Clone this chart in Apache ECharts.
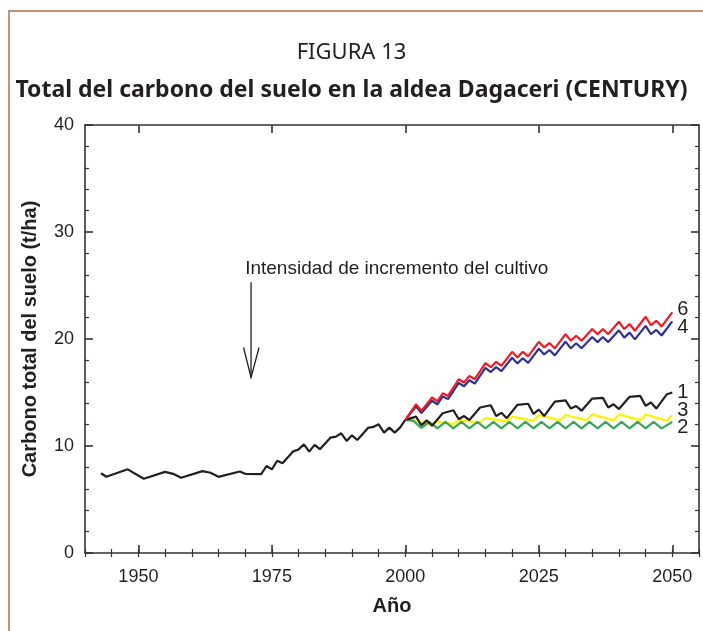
<!DOCTYPE html>
<html>
<head>
<meta charset="utf-8">
<script src="https://cdn.jsdelivr.net/npm/echarts@6.0.0/dist/echarts.min.js"></script>
<style>
    html, body { margin: 0; padding: 0; background: #fff; }
    #chart { width: 703px; height: 631px; }
</style>
</head>
<body>
<div id="chart"></div>
<script>
// Año / carbono (t/ha)
const histYears = [1943, 1944, 1948, 1951, 1955, 1956.5, 1958, 1962, 1963.5, 1965, 1969, 1970, 1973, 1974, 1975, 1976, 1977, 1979, 1980, 1981, 1982, 1983, 1984, 1986, 1987, 1988, 1989, 1990, 1991, 1993, 1994, 1995, 1996, 1997, 1998, 1999, 2000]
const histValues = [7.45, 7.13, 7.82, 6.94, 7.58, 7.4, 7.03, 7.65, 7.5, 7.12, 7.62, 7.4, 7.38, 8.13, 7.82, 8.62, 8.38, 9.5, 9.68, 10.15, 9.47, 10.1, 9.7, 10.79, 10.88, 11.19, 10.47, 11.0, 10.56, 11.69, 11.78, 12.03, 11.25, 11.72, 11.25, 11.72, 12.44]

// escenarios 6 y 4 (mismos años)
const years64 = [2000, 2002, 2003, 2005, 2006, 2007, 2008, 2010, 2011, 2012, 2013, 2015, 2016, 2017, 2018, 2020, 2021, 2022, 2023, 2025, 2026, 2027, 2028, 2030, 2031, 2032, 2033, 2035, 2036, 2037, 2038, 2040, 2041, 2042, 2043, 2045, 2046, 2047, 2048, 2050]
const values6 = [12.44, 13.9, 13.28, 14.53, 14.2, 14.93, 14.68, 16.24, 15.93, 16.55, 16.24, 17.74, 17.36, 17.87, 17.5, 18.8, 18.27, 18.8, 18.37, 19.74, 19.21, 19.62, 19.12, 20.46, 19.83, 20.3, 19.83, 20.93, 20.46, 20.93, 20.46, 21.61, 20.93, 21.4, 20.77, 22.08, 21.3, 21.7, 21.18, 22.49]
const values4 = [12.44, 13.7, 13.08, 14.23, 13.9, 14.63, 14.38, 15.89, 15.58, 16.15, 15.84, 17.29, 16.91, 17.37, 17.0, 18.25, 17.72, 18.2, 17.77, 19.09, 18.56, 18.97, 18.47, 19.76, 19.13, 19.6, 19.13, 20.18, 19.71, 20.18, 19.71, 20.81, 20.13, 20.6, 19.97, 21.23, 20.45, 20.85, 20.33, 21.64]

// escenario 1
const years1 = [2000, 2002, 2003, 2004, 2005, 2007, 2009, 2010, 2011, 2012, 2014, 2016, 2017, 2018, 2019, 2021, 2023, 2024, 2025, 2026, 2028, 2030, 2031, 2032, 2033, 2035, 2037, 2038, 2039, 2040, 2042, 2044, 2045, 2046, 2047, 2049, 2050]
const values1 = [12.44, 12.75, 11.94, 12.4, 11.9, 13.06, 13.34, 12.5, 12.8, 12.43, 13.6, 13.81, 12.8, 13.1, 12.6, 13.85, 13.95, 13.0, 13.4, 12.8, 14.15, 14.27, 13.5, 13.73, 13.3, 14.43, 14.5, 13.6, 13.9, 13.45, 14.6, 14.68, 13.75, 14.06, 13.5, 14.84, 15.0]

// escenario 3
const years3 = [2000, 2001, 2002, 2005, 2006, 2009, 2010, 2014, 2015, 2019, 2020, 2024, 2025, 2029, 2030, 2034, 2035, 2039, 2040, 2044, 2045, 2049, 2050]
const values3 = [12.44, 12.5, 12.4, 11.95, 12.3, 12.05, 12.4, 12.2, 12.6, 12.3, 12.75, 12.35, 12.9, 12.4, 12.9, 12.4, 12.95, 12.4, 12.95, 12.4, 12.95, 12.35, 12.9]

// escenario 2
const years2 = [2000, 2001.5, 2003, 2004.5, 2006, 2007.5, 2009, 2010.5, 2012, 2013.5, 2015, 2016.5, 2018, 2019.5, 2021, 2022.5, 2024, 2025.5, 2027, 2028.5, 2030, 2031.5, 2033, 2034.5, 2036, 2037.5, 2039, 2040.5, 2042, 2043.5, 2045, 2046.5, 2048, 2050]
const values2 = [12.44, 12.35, 11.7, 12.25, 11.65, 12.25, 11.65, 12.25, 11.65, 12.25, 11.65, 12.25, 11.65, 12.25, 11.65, 12.25, 11.65, 12.25, 11.65, 12.25, 11.65, 12.25, 11.65, 12.25, 11.65, 12.25, 11.65, 12.25, 11.65, 12.25, 11.65, 12.25, 11.65, 12.25]

const majorYears = [1950, 1975, 2000, 2025, 2050]

const ink = '#231f20'
const axisColor = '#333'

function pairs(xs, ys) {
    return xs.map((x, i) => [x, ys[i]])
}

function xAxisFor(position, labels) {
    return [{
        type: 'value',
        position: position,
        min: 1940,
        max: 2055,
        name: labels ? 'Año' : '',
        nameLocation: 'middle',
        nameGap: 43,
        nameTextStyle: { fontFamily: 'Liberation Sans', fontWeight: 'bold', fontSize: 20, color: ink },
        axisLine: { show: true, onZero: false, lineStyle: { color: axisColor, width: 1.6 } },
        axisTick: { show: true, inside: true, length: 8, customValues: majorYears, lineStyle: { color: axisColor, width: 1.6 } },
        axisLabel: {
            show: labels,
            customValues: majorYears,
            formatter: (v) => String(v),
            margin: 15,
            fontFamily: 'Liberation Sans',
            fontSize: 18,
            color: ink
        },
        splitLine: { show: false }
    }, {
        // ticks menores cada 5 años
        type: 'value',
        position: position,
        min: 1940,
        max: 2055,
        interval: 5,
        axisLine: { show: false },
        axisTick: { show: true, inside: true, length: 4, lineStyle: { color: axisColor, width: 1.2 } },
        axisLabel: { show: false },
        splitLine: { show: false }
    }]
}

function yAxisFor(position, labels) {
    return {
        type: 'value',
        position: position,
        min: 0,
        max: 40,
        interval: 10,
        name: labels ? 'Carbono total del suelo (t/ha)' : '',
        nameLocation: 'middle',
        nameRotate: 90,
        nameGap: 45,
        nameTextStyle: { fontFamily: 'Liberation Sans', fontWeight: 'bold', fontSize: 20, color: ink },
        axisLine: { show: true, onZero: false, lineStyle: { color: axisColor, width: 1.6 } },
        axisTick: { show: true, inside: true, length: 8, lineStyle: { color: axisColor, width: 1.6 } },
        minorTick: { show: true, splitNumber: 5, length: 4, lineStyle: { color: axisColor, width: 1.2 } },
        axisLabel: { show: labels, margin: 11, fontFamily: 'Liberation Sans', fontSize: 18, color: ink },
        splitLine: { show: false },
        minorSplitLine: { show: false }
    }
}

function lineSeries(name, data, color, label, dy) {
    return {
        name: name,
        type: 'line',
        data: data,
        xAxisIndex: 0,
        yAxisIndex: 0,
        symbol: 'none',
        lineStyle: { color: color, width: 2.2 },
        endLabel: label ? {
            show: true,
            formatter: label,
            distance: 5,
            offset: [0, dy],
            fontFamily: 'Liberation Sans',
            fontSize: 20,
            color: ink
        } : { show: false },
        z: 2
    }
}

const chart = echarts.init(document.getElementById('chart'), null, { renderer: 'canvas' })

chart.setOption({
    animation: false,
    backgroundColor: '#fff',
    title: [{
        text: 'FIGURA 13',
        left: 'center',
        top: 35,
        textStyle: { fontFamily: 'Noto Sans', fontWeight: 'normal', fontSize: 22, lineHeight: 26, color: ink }
    }, {
        text: 'Total del carbono del suelo en la aldea Dagaceri (CENTURY)',
        left: 'center',
        top: 71,
        textStyle: { fontFamily: 'Noto Sans', fontWeight: 'bold', fontSize: 23, lineHeight: 28, color: ink }
    }],
    grid: {
        left: 85,
        right: 4,
        top: 125,
        bottom: 78,
        containLabel: false,
        outerBoundsMode: 'none'
    },
    xAxis: [...xAxisFor('bottom', true), ...xAxisFor('top', false)],
    yAxis: [yAxisFor('left', true), yAxisFor('right', false)],
    series: [
        lineSeries('histórico', pairs(histYears, histValues), ink, null, 0),
        lineSeries('3', pairs(years3, values3), '#fff200', '3', -4),
        lineSeries('2', pairs(years2, values2), '#3aa655', '2', 6),
        lineSeries('1', pairs(years1, values1), ink, '1', 0),
        lineSeries('4', pairs(years64, values4), '#2e3192', '4', 6),
        lineSeries('6', pairs(years64, values6), '#ed1c24', '6', -3)
    ]
})

// flecha y texto de anotación, ubicados en coordenadas de datos
const toPx = (p) => chart.convertToPixel({ xAxisIndex: 0, yAxisIndex: 0 }, p)
const arrowTop = toPx([1971.1, 25.3])
const arrowTip = toPx([1971.1, 16.4])
const notePos = toPx([1970, 26.6])

chart.setOption({
    graphic: [{
        id: 'frame',
        type: 'polyline',
        shape: { points: [[9, 631], [9, 11], [703, 11]] },
        style: { stroke: '#c8917c', lineWidth: 2, fill: null },
        silent: true
    }, {
        id: 'arrow-shaft',
        type: 'line',
        shape: { x1: arrowTop[0], y1: arrowTop[1], x2: arrowTip[0], y2: arrowTip[1] },
        style: { stroke: ink, lineWidth: 1.3 }
    }, {
        id: 'arrow-head',
        type: 'polyline',
        shape: { points: [[arrowTip[0] - 7.5, arrowTip[1] - 30], arrowTip, [arrowTip[0] + 8, arrowTip[1] - 30]] },
        style: { stroke: ink, lineWidth: 1.3, fill: null }
    }, {
        id: 'note',
        type: 'text',
        x: notePos[0],
        y: notePos[1],
        style: {
            text: 'Intensidad de incremento del cultivo',
            fontFamily: 'Liberation Sans',
            fontSize: 19,
            fill: ink,
            align: 'left',
            verticalAlign: 'middle'
        }
    }]
})
</script>
</body>
</html>
